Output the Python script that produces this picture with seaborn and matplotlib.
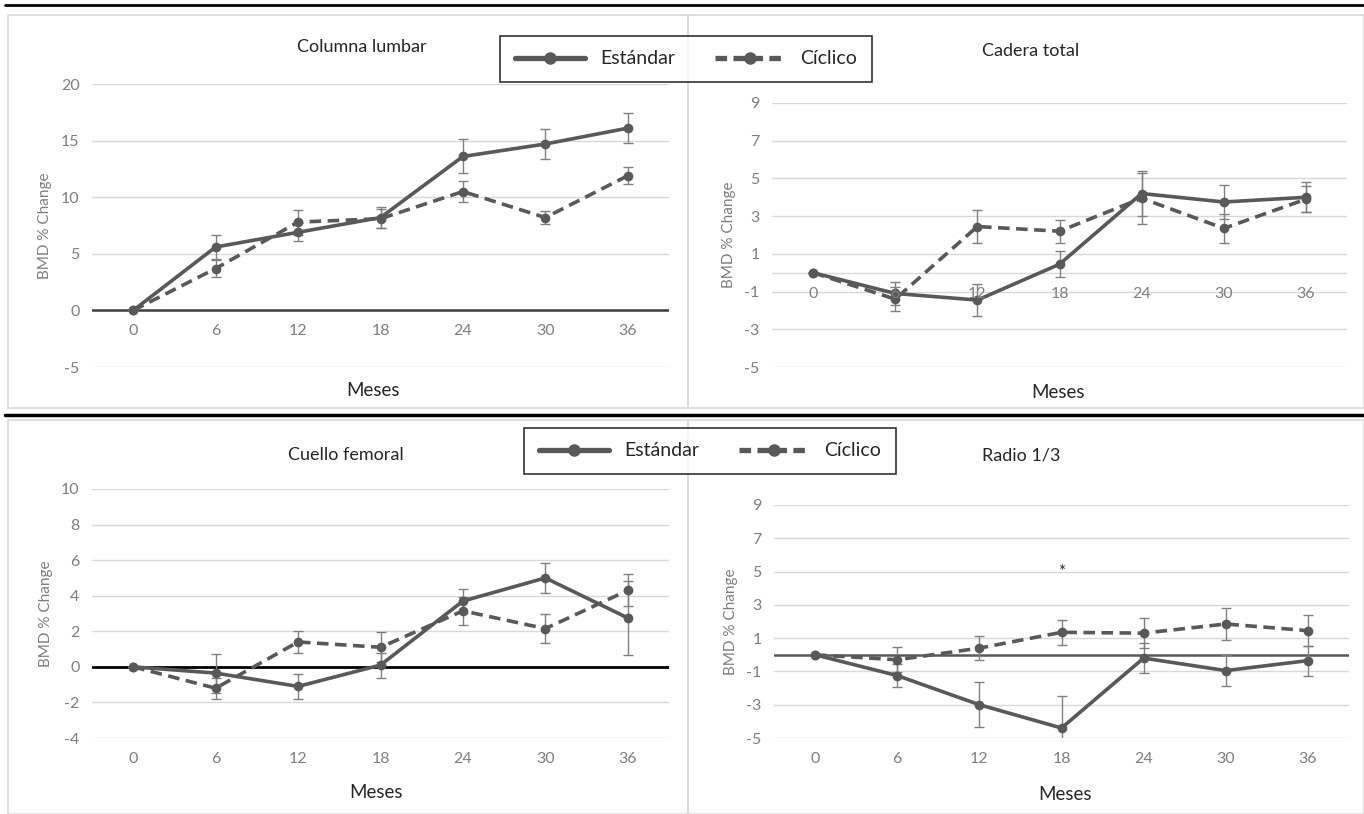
import matplotlib
matplotlib.use('Agg')
import matplotlib.pyplot as plt
from matplotlib.lines import Line2D
import numpy as np
import pandas as pd
import seaborn as sns

# data (BMD % change, mean +/- error)
meses = [0, 6, 12, 18, 24, 30, 36]

lumbar_std = [0, 5.6, 6.9, 8.2, 13.6, 14.7, 16.1]
lumbar_std_err = [0, 1.1, 0.8, 0.9, 1.5, 1.3, 1.35]
lumbar_cic = [0, 3.7, 7.8, 8.1, 10.5, 8.2, 11.9]
lumbar_cic_err = [0, 0.75, 1.1, 0.85, 0.9, 0.6, 0.75]

cadera_std = [0, -1.1, -1.45, 0.45, 4.2, 3.75, 4.0]
cadera_std_err = [0, 0.6, 0.85, 0.7, 1.2, 0.9, 0.8]
cadera_cic = [0, -1.4, 2.45, 2.2, 3.95, 2.35, 3.9]
cadera_cic_err = [0, 0.65, 0.9, 0.6, 1.35, 0.75, 0.7]

cuello_std = [0, -0.35, -1.1, 0.1, 3.7, 5.0, 2.75]
cuello_std_err = [0, 1.1, 0.7, 0.7, 0.65, 0.85, 2.1]
cuello_cic = [0, -1.2, 1.4, 1.1, 3.15, 2.15, 4.3]
cuello_cic_err = [0, 0.6, 0.6, 0.85, 0.8, 0.8, 0.9]

radio_std = [0, -1.25, -3.0, -4.4, -0.2, -0.95, -0.35]
radio_std_err = [0, 0.7, 1.35, 1.95, 0.9, 0.95, 0.9]
radio_cic = [0, -0.3, 0.4, 1.35, 1.3, 1.85, 1.45]
radio_cic_err = [0, 0.75, 0.7, 0.75, 0.9, 0.95, 0.95]

grupos = ['Estándar', 'Cíclico']
LINE = '#595959'
ERR = '#808080'
GRID = '#d9d9d9'
TXT = '#7f7f7f'

sns.set_style('white')
plt.rcParams['font.family'] = ['Liberation Sans Narrow', 'Lato', 'DejaVu Sans']

W, H = 1364, 814
fig = plt.figure(figsize=(W / 100, H / 100), dpi=100)


def px(x0, y_top, x1, y_bot):
    # pixel box -> figure fraction rect
    return [x0 / W, 1 - y_bot / H, (x1 - x0) / W, (y_bot - y_top) / H]


def panel(rect, title, std, std_err, cic, cic_err, ylim, yticks, title_xy,
          zero_color, zero_lw, labels_at_zero):
    ax = fig.add_axes(px(*rect))
    df = pd.DataFrame({
        'Meses': meses * 2,
        'BMD': std + cic,
        'Grupo': [grupos[0]] * len(meses) + [grupos[1]] * len(meses),
    })
    for y in yticks:
        ax.axhline(y, color=GRID, lw=1, zorder=0)
    ax.axhline(0, color=zero_color, lw=zero_lw, zorder=1)
    ax.errorbar(meses, std, yerr=std_err, fmt='none', ecolor=ERR, elinewidth=1,
                capsize=3.5, capthick=1, zorder=2)
    ax.errorbar(meses, cic, yerr=cic_err, fmt='none', ecolor=ERR, elinewidth=1,
                capsize=3.5, capthick=1, zorder=2)
    sns.lineplot(data=df, x='Meses', y='BMD', hue='Grupo', style='Grupo',
                 palette={g: LINE for g in grupos},
                 dashes={'Estándar': '', 'Cíclico': (3.2, 1.8)},
                 markers={'Estándar': 'o', 'Cíclico': 'o'},
                 markersize=7, markeredgewidth=0, linewidth=2.6,
                 legend=False, ax=ax, zorder=3)
    ax.set_xlim(-3, 39)
    ax.set_ylim(*ylim)
    ax.set_yticks(yticks)
    ax.set_yticklabels([str(v) for v in yticks])
    for s in ax.spines.values():
        s.set_visible(False)
    ax.set_xticks([])
    ax.tick_params(axis='y', length=0, pad=9, labelsize=11.5, labelcolor=TXT)
    ax.set_xlabel('')
    ax.set_ylabel('BMD % Change', color=TXT, fontsize=11, labelpad=6)
    # category labels: just below the zero line or below the plot area
    ylab = 0 if labels_at_zero else ylim[0]
    for m in meses:
        ax.annotate(str(m), (m, ylab), xytext=(0, -15), textcoords='offset points',
                    ha='center', va='center', fontsize=11.5, color=TXT)
    fig.text(title_xy[0] / W, 1 - title_xy[1] / H, title, ha='center', va='center',
             fontsize=13, color='#262626')
    return ax


ax1 = panel((92, 84, 669, 367), 'Columna lumbar', lumbar_std, lumbar_std_err,
            lumbar_cic, lumbar_cic_err, (-5, 20), [-5, 0, 5, 10, 15, 20],
            (362, 47), '#404040', 1.8, True)
ax2 = panel((772, 103, 1347, 367), 'Cadera total', cadera_std, cadera_std_err,
            cadera_cic, cadera_cic_err, (-5, 9), [-5, -3, -1, 1, 3, 5, 7, 9],
            (1031, 51), GRID, 1, True)
ax3 = panel((92, 489, 669, 738), 'Cuello femoral', cuello_std, cuello_std_err,
            cuello_cic, cuello_cic_err, (-4, 10), [-4, -2, 0, 2, 4, 6, 8, 10],
            (346, 455), 'black', 2, False)
ax4 = panel((774, 505, 1349, 738), 'Radio 1/3', radio_std, radio_std_err,
            radio_cic, radio_cic_err, (-5, 9), [-5, -3, -1, 1, 3, 5, 7, 9],
            (1021, 455), LINE, 1.8, False)
ax4.text(18, 5, '*', ha='center', va='center', fontsize=12, color='#262626')

for xy in [(373, 390), (1058, 392), (376, 793), (1065, 795)]:
    fig.text(xy[0] / W, 1 - xy[1] / H, 'Meses', ha='center', va='center',
             fontsize=13.5, color='#262626')

# chart area borders and separators
for x0, y0, x1, y1 in [(8, 15, 688, 408), (688, 15, 1364, 408),
                       (8, 420, 688, 814), (688, 420, 1364, 814)]:
    fig.patches.append(plt.Rectangle((x0 / W, 1 - y1 / H), (x1 - x0) / W, (y1 - y0) / H,
                                     transform=fig.transFigure, fill=False,
                                     edgecolor=GRID, lw=1.2, zorder=0))
fig.add_artist(Line2D([0.004, 1], [1 - 5 / H] * 2, color='black', lw=2))
fig.add_artist(Line2D([0.004, 1], [1 - 415 / H] * 2, color='black', lw=2.5))

handles = [Line2D([], [], color=LINE, lw=3.8, marker='o', markersize=9,
                  markeredgewidth=0),
           Line2D([], [], color=LINE, lw=3.8, marker='o', markersize=9,
                  markeredgewidth=0, dashes=(2.2, 1.2))]
for cx, cy in [(686, 59), (710, 451)]:
    leg = fig.legend(handles, grupos, loc='center', bbox_to_anchor=(cx / W, 1 - cy / H),
                     ncol=2, fontsize=14, frameon=True, fancybox=False,
                     handlelength=3.6, columnspacing=2.0, borderpad=0.75,
                     handletextpad=0.8)
    leg.get_frame().set_edgecolor('black')
    leg.get_frame().set_linewidth(1.2)
    for t in leg.get_texts():
        t.set_color('#262626')

fig.savefig('out.png', dpi=100)
